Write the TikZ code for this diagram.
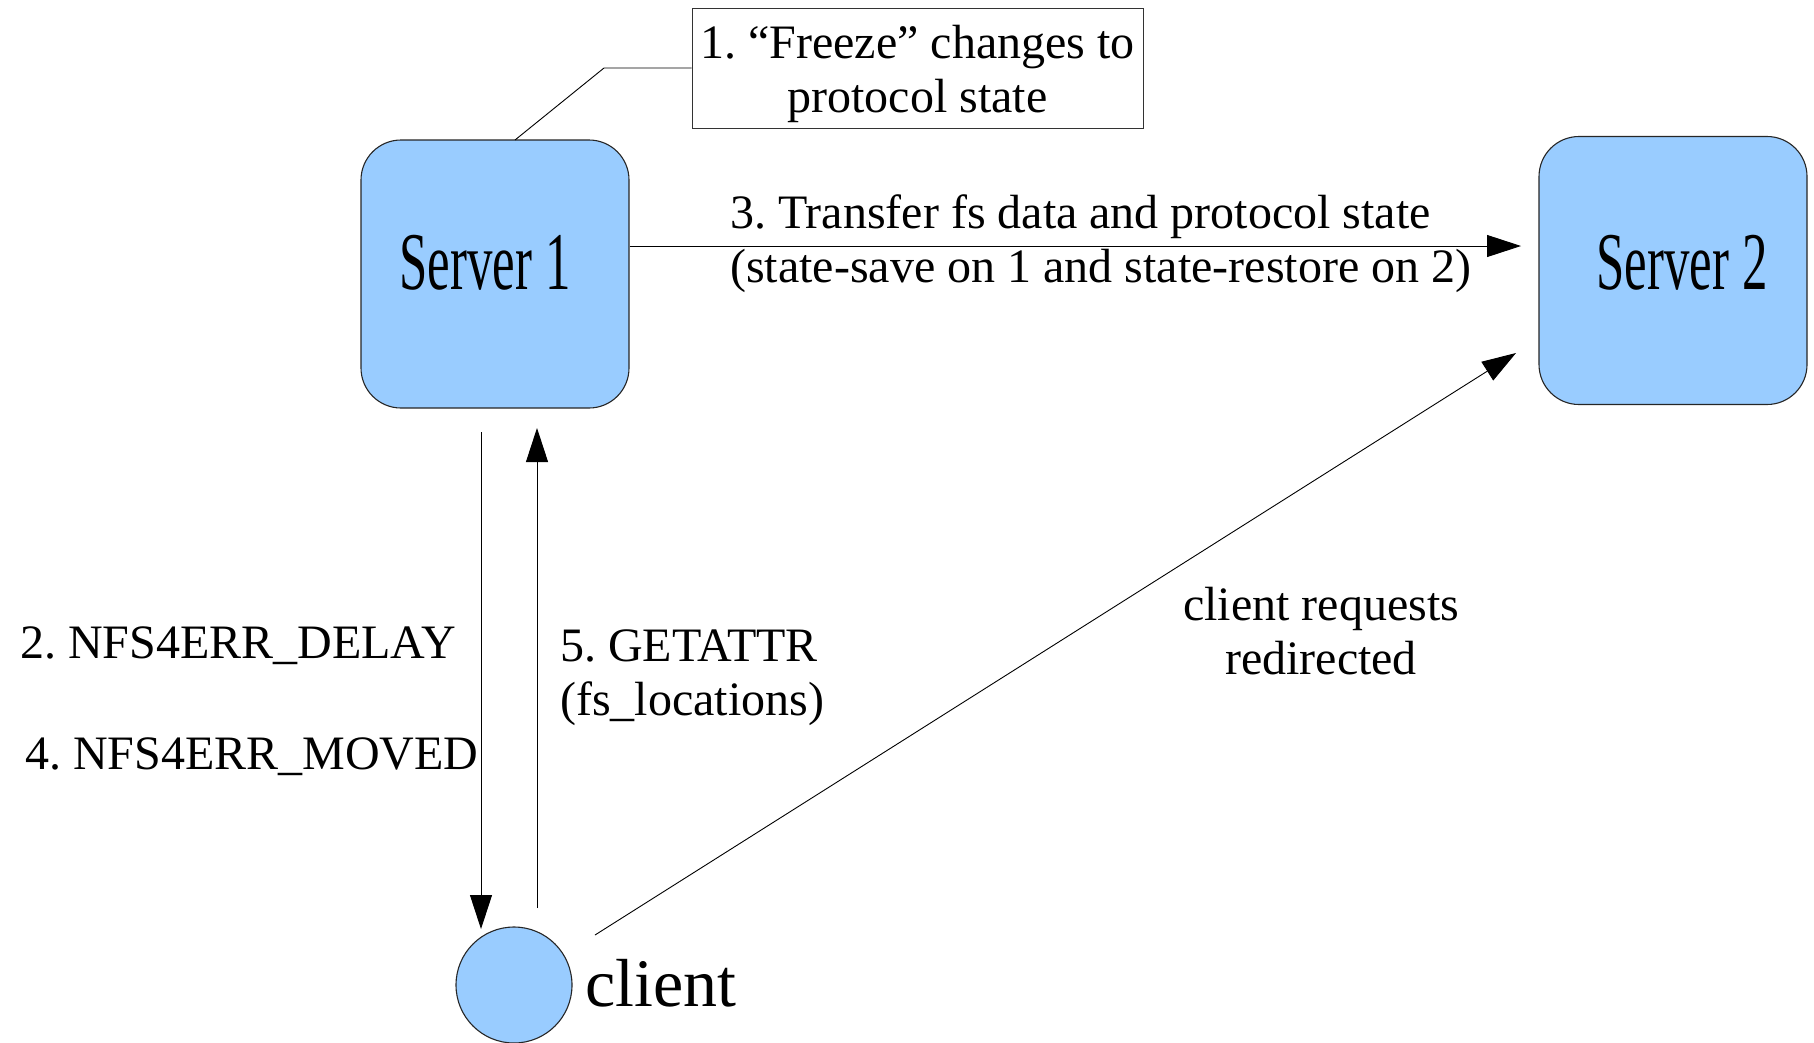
\documentclass[tikz,border=0pt]{standalone}
\usepackage{fontspec}
\setmainfont{Liberation Serif}
\usepackage{graphicx}
\usetikzlibrary{arrows.meta,calc}
\definecolor{boxblue}{HTML}{99CCFF}
\frenchspacing
\begin{document}
\begin{tikzpicture}[x=1pt,y=-1pt,
  server/.style={draw=black!85,line width=1.1pt,fill=boxblue,rounded corners=40pt,
    minimum width=268pt,minimum height=268pt,inner sep=0pt},
  clientnode/.style={circle,draw=black!85,line width=1.1pt,fill=boxblue,minimum size=116pt,inner sep=0pt},
  note/.style={draw=black!80,line width=0.9pt,minimum width=451pt,minimum height=120pt,inner sep=0pt},
  txt/.style={font=\fontsize{48}{53.5}\selectfont,inner sep=0pt},
  srvtxt/.style={font=\fontsize{82}{90}\selectfont,inner sep=0pt},
  conn/.style={line width=0.9pt},
  arr/.style={line width=0.9pt,-{Triangle[length=34pt,width=22pt]}}]
\useasboundingbox (0,0) rectangle (1814,1042);
% nodes
\node[server] (s1) at (495,274) {};
\node[server] (s2) at (1673,270.5) {};
\node[srvtxt] (s1t) at (485,263) {\scalebox{0.62}[1]{Server 1}};
\node[srvtxt] (s2t) at (1682,263) {\scalebox{0.62}[1]{Server 2}};
\node[clientnode] (cl) at (514,985) {};
\node[anchor=west,font=\fontsize{68}{75}\selectfont,inner sep=0pt] (clt) at (585,983) {client};
\node[note] (fr) at (917.5,68) {};
\node[txt,align=center,font=\fontsize{48}{54.5}\selectfont] (frt) at (917.5,74) {1. “Freeze” changes to\\protocol state};
% labels
\node[txt,anchor=west,align=left] (l3) at (730,243.5) {3. Transfer fs data and protocol state\\(state-save on 1 and state-restore on 2)};
\node[txt,anchor=west] (l2) at (20,645.5) {2. NFS4ERR\_DELAY};
\node[txt,anchor=west] (l4) at (25,756.5) {4. NFS4ERR\_MOVED};
\node[txt,anchor=west,align=left] (l5) at (560,677.5) {5. GETATTR\\(fs\_locations)};
\node[txt,align=center] (lr) at (1321,631) {client requests\\redirected};
% connector coordinates
\coordinate (frk) at (604,68);
\coordinate (s1top) at (515,140);
\coordinate (a3s) at ($(s1.east)+(0,-28)$);
\coordinate (a3e) at (1521,246);
\coordinate (dns) at (481,432);
\coordinate (dne) at (481,929);
\coordinate (ups) at (537,908);
\coordinate (upe) at (537,428);
\coordinate (dgs) at (595,935);
\coordinate (dge) at (1516,353);
% connectors
\draw[conn] (fr.west) -- (frk) -- (s1top);
\draw[arr] (a3s) -- (a3e);
\draw[arr] (dns) -- (dne);
\draw[arr] (ups) -- (upe);
\draw[arr] (dgs) -- (dge);
\end{tikzpicture}
\end{document}
